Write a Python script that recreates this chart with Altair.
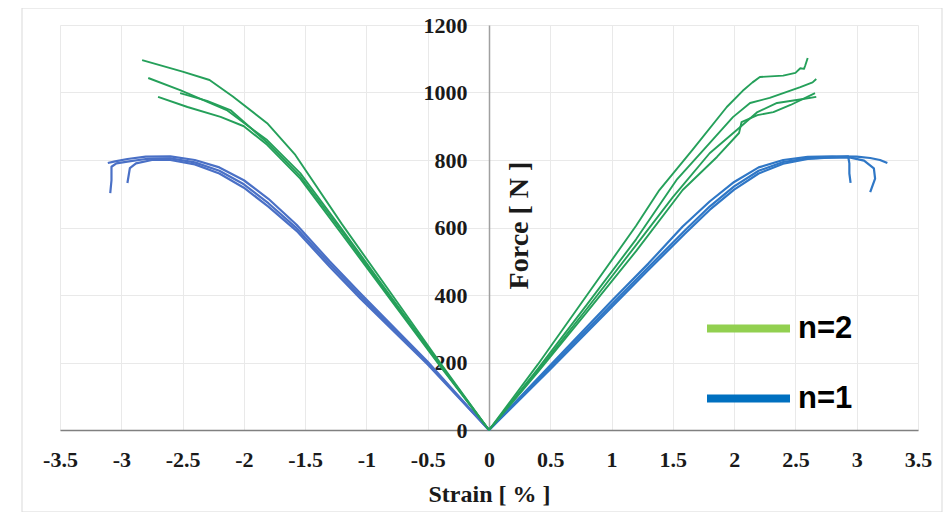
import altair as alt
import pandas as pd

# ---------------- data ----------------
X_TICKS = [-3.5, -3, -2.5, -2, -1.5, -1, -0.5, 0, 0.5, 1, 1.5, 2, 2.5, 3, 3.5]
Y_TICKS = [0, 200, 400, 600, 800, 1000, 1200]
LEGEND_LABELS = ["n=2", "n=1"]

# n=2, positive strain
G_R1_X = [0, 0.4, 0.8, 1.2, 1.39, 1.66, 1.94, 2.07, 2.15, 2.21, 2.40, 2.50, 2.54, 2.57, 2.58, 2.60]
G_R1_Y = [0, 195, 400, 605, 711, 830, 957, 1005, 1030, 1046, 1050, 1058, 1072, 1070, 1080, 1102]
G_R2_X = [0, 0.4, 0.8, 1.2, 1.53, 1.80, 1.99, 2.13, 2.29, 2.54, 2.64, 2.67]
G_R2_Y = [0, 182, 372, 565, 741, 850, 927, 969, 984, 1016, 1030, 1040]
G_R3_X = [0, 0.4, 0.8, 1.2, 1.5, 1.8, 2.05, 2.19, 2.35, 2.55, 2.67]
G_R3_Y = [0, 176, 360, 548, 690, 820, 898, 942, 969, 980, 987]
G_R4_X = [0, 0.4, 0.8, 1.2, 1.58, 1.86, 2.04, 2.06, 2.19, 2.32, 2.46, 2.66]
G_R4_Y = [0, 172, 350, 530, 711, 809, 880, 912, 933, 942, 963, 998]

# n=2, negative strain
G_L1_X = [0, -0.4, -0.8, -1.2, -1.58, -1.81, -2.09, -2.28, -2.5, -2.83]
G_L1_Y = [0, 200, 405, 610, 815, 909, 988, 1037, 1062, 1096]
G_L2_X = [0, -0.4, -0.8, -1.2, -1.54, -1.81, -2.14, -2.52, -2.78]
G_L2_Y = [0, 195, 395, 595, 761, 859, 948, 1007, 1043]
G_L3_X = [0, -0.4, -0.8, -1.2, -1.54, -1.81, -2.0, -2.19, -2.46, -2.70]
G_L3_Y = [0, 190, 385, 580, 745, 845, 900, 928, 957, 987]
G_L4_X = [0, -0.4, -0.8, -1.2, -1.54, -1.81, -2.11, -2.3, -2.52]
G_L4_Y = [0, 193, 390, 588, 752, 852, 948, 975, 998]

# n=1, positive strain
B_R1_X = [0, 0.5, 1.0, 1.3, 1.58, 1.8, 2.0, 2.2, 2.4, 2.6, 2.8, 3.0, 3.11, 3.19, 3.25]
B_R1_Y = [0, 192, 382, 493, 603, 677, 735, 778, 800, 809, 811, 810, 806, 800, 791]
B_R2_X = [0, 0.5, 1.0, 1.3, 1.6, 1.8, 2.0, 2.2, 2.4, 2.6, 2.8, 2.95, 3.06, 3.14, 3.15, 3.11]
B_R2_Y = [0, 186, 372, 482, 592, 662, 722, 768, 794, 805, 808, 807, 798, 775, 745, 705]
B_R3_X = [0, 0.5, 1.0, 1.3, 1.6, 1.8, 2.0, 2.2, 2.4, 2.6, 2.8, 2.93, 2.94, 2.94, 2.95]
B_R3_Y = [0, 180, 364, 474, 582, 652, 712, 760, 789, 803, 808, 811, 790, 760, 732]

# n=1, negative strain
B_L1_X = [0, -0.5, -1.05, -1.3, -1.57, -1.8, -2.0, -2.2, -2.4, -2.6, -2.8, -2.95, -3.05, -3.11]
B_L1_Y = [0, 202, 405, 500, 608, 685, 740, 778, 800, 811, 810, 803, 796, 791]
B_L2_X = [0, -0.5, -1.05, -1.3, -1.57, -1.8, -2.0, -2.2, -2.4, -2.6, -2.8, -2.95, -3.04, -3.08, -3.08, -3.09]
B_L2_Y = [0, 198, 398, 492, 598, 672, 728, 768, 793, 805, 803, 795, 790, 780, 740, 702]
B_L3_X = [0, -0.5, -1.05, -1.3, -1.57, -1.8, -2.0, -2.2, -2.4, -2.6, -2.75, -2.88, -2.93, -2.95]
B_L3_Y = [0, 194, 390, 484, 590, 662, 718, 760, 787, 800, 800, 790, 776, 732]

CURVES = [
    ("gr1", "n=2", "R", G_R1_X, G_R1_Y), ("gr2", "n=2", "R", G_R2_X, G_R2_Y),
    ("gr3", "n=2", "R", G_R3_X, G_R3_Y), ("gr4", "n=2", "R", G_R4_X, G_R4_Y),
    ("gl1", "n=2", "L", G_L1_X, G_L1_Y), ("gl2", "n=2", "L", G_L2_X, G_L2_Y),
    ("gl3", "n=2", "L", G_L3_X, G_L3_Y), ("gl4", "n=2", "L", G_L4_X, G_L4_Y),
    ("br1", "n=1", "R", B_R1_X, B_R1_Y), ("br2", "n=1", "R", B_R2_X, B_R2_Y),
    ("br3", "n=1", "R", B_R3_X, B_R3_Y),
    ("bl1", "n=1", "L", B_L1_X, B_L1_Y), ("bl2", "n=1", "L", B_L2_X, B_L2_Y),
    ("bl3", "n=1", "L", B_L3_X, B_L3_Y),
]

rows = []
for name, grp, side, xs, ys in CURVES:
    for i, (xv, yv) in enumerate(zip(xs, ys)):
        rows.append({"curve": name, "group": grp, "side": side, "i": i, "strain": xv, "force": yv})
df = pd.DataFrame(rows)

legend_df = pd.DataFrame({"series": LEGEND_LABELS, "strain": [0, 0], "force": [0, 0]})

# ---------------- styling ----------------
SERIF = "Liberation Serif"
SANS = "Liberation Sans"

x_scale = alt.Scale(domain=[-3.5, 3.5], nice=False, zero=False)
y_scale = alt.Scale(domain=[0, 1200], nice=False)

x_axis = alt.Axis(
    title="Strain [ % ]", values=X_TICKS,
    labelExpr="datum.value < 0 ? '-' + format(-datum.value, '~g') : format(datum.value, '~g')",
    grid=True, gridColor="#e9e9e9", gridWidth=1,
    domainColor="#808080", domainWidth=1.5,
    ticks=False, tickSize=0, labelPadding=19, labelFlush=False, labelOverlap=False,
    labelFont=SERIF, labelFontSize=22, labelFontWeight="bold", labelColor="#1a1a1a",
    titleFont=SERIF, titleFontSize=24, titleFontWeight="bold", titleColor="#1a1a1a",
    titlePadding=12,
)
y_axis = alt.Axis(
    title="Force [ N ]", values=Y_TICKS, offset=-429,
    labelExpr="format(datum.value, 'd')",
    grid=True, gridColor="#e9e9e9", gridWidth=1,
    domainColor="#a0a0a0", domainWidth=1.5,
    ticks=False, tickSize=0, labelPadding=22, labelOverlap=False, labelFlush=False,
    labelFont=SERIF, labelFontSize=22, labelFontWeight="bold", labelColor="#1a1a1a",
    titleFont=SERIF, titleFontSize=28, titleFontWeight="bold", titleColor="#1a1a1a",
    titleX=30, titleY=200, titleAngle=270, titleBaseline="middle", titleAlign="center",
)

border = alt.Chart(alt.Data(values=[{}])).mark_rect(
    fillOpacity=0, stroke="#d9d9d9", strokeWidth=1, clip=False
).encode(x=alt.value(-38), x2=alt.value(882), y=alt.value(-17), y2=alt.value(487))

base = alt.Chart(df).encode(
    x=alt.X("strain:Q", scale=x_scale, axis=x_axis),
    y=alt.Y("force:Q", scale=y_scale, axis=y_axis),
    detail="curve:N",
    order="i:Q",
)

green = base.transform_filter("datum.group == 'n=2'").mark_line(
    color="#25a05a", strokeWidth=1.9, strokeJoin="round")
blue_r = base.transform_filter("datum.group == 'n=1' && datum.side == 'R'").mark_line(
    color="#2f77c6", strokeWidth=2.2, strokeJoin="round")
blue_l = base.transform_filter("datum.group == 'n=1' && datum.side == 'L'").mark_line(
    color="#4a70c6", strokeWidth=2.2, strokeJoin="round")

legend_layer = alt.Chart(legend_df).mark_line().encode(
    x=alt.X("strain:Q", scale=x_scale),
    y=alt.Y("force:Q", scale=y_scale),
    color=alt.Color(
        "series:N",
        scale=alt.Scale(domain=LEGEND_LABELS, range=["#92d050", "#0070c0"]),
        legend=alt.Legend(
            title=None, orient="none", legendX=643, legendY=258,
            symbolType="stroke", symbolSize=6889, symbolStrokeWidth=8, symbolOpacity=1,
            labelFont=SANS, labelFontSize=31, labelFontWeight="bold", labelColor="black",
            labelOffset=4, rowPadding=8, padding=0,
        ),
    ),
)

chart = alt.layer(border, blue_l, blue_r, green, legend_layer).properties(
    width=858, height=405,
    autosize=alt.AutoSizeParams(type="none"),
    padding={"left": 52, "top": 17, "right": 25, "bottom": 82},
    background="white",
).configure_view(stroke=None)

chart.save("out.html", embed_options={"renderer": "svg", "actions": False})
